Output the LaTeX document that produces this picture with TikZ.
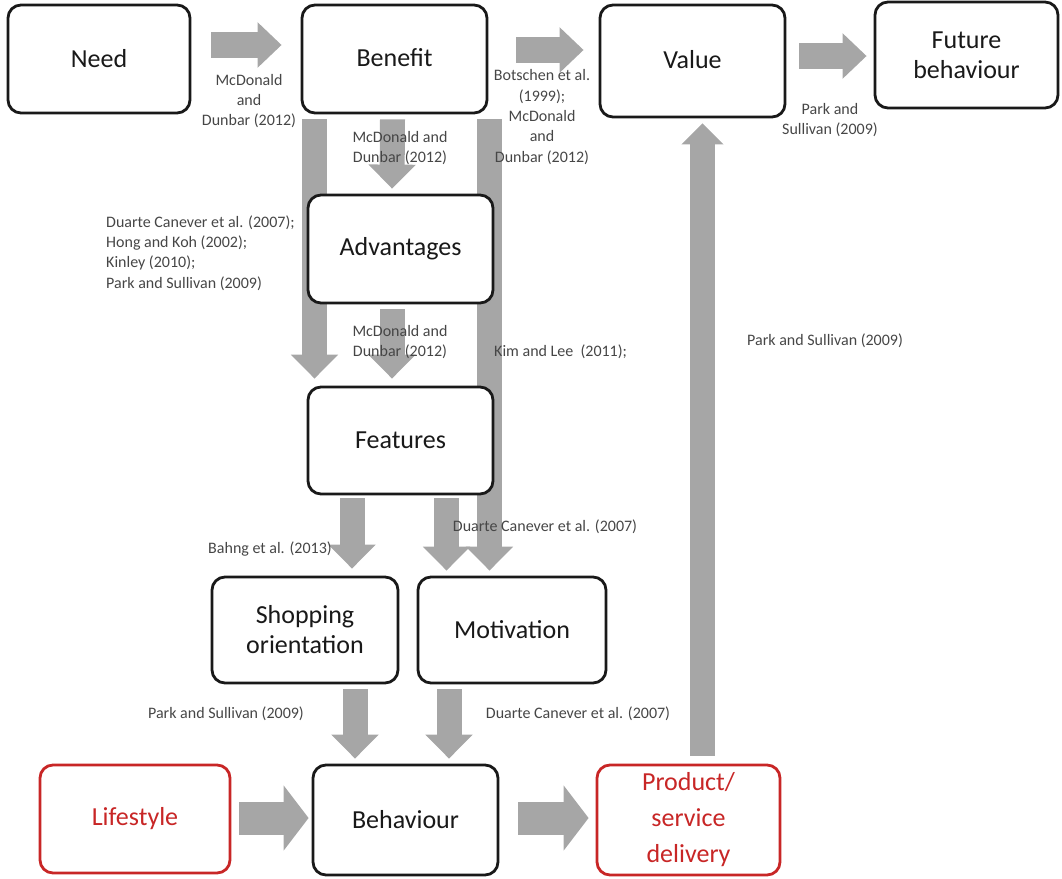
\documentclass[tikz,border=0pt]{standalone}
\usepackage{fontspec}
\setmainfont{Carlito}
\usetikzlibrary{arrows.meta,calc,backgrounds}
\definecolor{arrowgray}{RGB}{166,166,166}
\definecolor{boxred}{RGB}{200,38,38}
\definecolor{labelgray}{RGB}{70,70,70}
\definecolor{ink}{RGB}{25,25,25}

\begin{document}
\begin{tikzpicture}[x=1pt,y=-1pt,
  box/.style={draw=ink, line width=2.8pt, rounded corners=13pt, fill=white,
    align=center, text=ink, inner sep=0pt,
    font=\fontsize{26}{30}\selectfont},
  redbox/.style={box, draw=boxred, text=boxred},
  cite/.style={font=\fontsize{16}{20.4}\selectfont, text=labelgray,
    align=center, inner sep=0pt},
  citeleft/.style={cite, align=left, anchor=west},
  blkh/.style={draw=arrowgray, line width=26pt,
    -{Triangle[length=24pt,width=44pt]}},
  blkhb/.style={draw=arrowgray, line width=33pt,
    -{Triangle[length=25pt,width=64pt]}},
  blkv/.style={draw=arrowgray, line width=25pt,
    -{Triangle[length=24pt,width=46pt]}},
  blkup/.style={draw=arrowgray, line width=25pt,
    -{Triangle[length=21pt,width=41pt]}},
]
\useasboundingbox (0,0) rectangle (1062,878);

% boxes
\node[box, minimum width=182pt, minimum height=108pt] (need) at (99,59) {Need};
\node[box, minimum width=185pt, minimum height=108pt] (benefit) at (394.5,59) {\raisebox{2pt}{Benefit}};
\node[box, minimum width=185pt, minimum height=112pt] (value) at (692.5,61) {\raisebox{4pt}{Value}};
\node[box, minimum width=183pt, minimum height=106pt] (future) at (966.5,55) {Future\\behaviour};
\node[box, minimum width=185pt, minimum height=108pt] (adv) at (400.5,249) {Advantages};
\node[box, minimum width=185pt, minimum height=107pt] (feat) at (400.5,440.5) {Features};
\node[box, minimum width=186pt, minimum height=106pt] (shop) at (305,630) {\raisebox{2pt}{Shopping}\\\raisebox{2pt}{orientation}};
\node[box, minimum width=188pt, minimum height=106pt] (motiv) at (512,630) {Motivation};
\node[redbox, minimum width=190pt, minimum height=108pt] (life) at (135,819) {Lifestyle};
\node[box, minimum width=185pt, minimum height=110pt] (behav) at (405.5,820) {Behaviour};
\node[redbox, minimum width=183pt, minimum height=110pt,
      font=\fontsize{26}{36}\selectfont] (prod) at (688.5,820) {Product/\\service\\delivery};

% block arrows, behind boxes and labels
\begin{scope}[on background layer]
  \draw[blkh] ($(need.east)+(20,-14)$) -- ($(benefit.west)+(-19,-14)$);
  \draw[blkh] ($(benefit.east)+(28,-9)$) -- ($(value.west)+(-15,-11)$);
  \draw[blkh] ($(value.east)+(13,-5)$) -- ($(future.west)+(-7,1)$);
  \draw[blkv] ($(benefit.south)+(-2,5)$) -- ($(adv.north)+(-8.5,-5)$);
  \draw[blkv] ($(adv.south)+(-8.5,5)$) -- ($(feat.north)+(-8.5,-7)$);
  \draw[blkv] ($(benefit.south)+(-80,5)$) -- ($(feat.north)+(-86,-7)$);
  \draw[blkv] ($(benefit.south)+(95,5)$) -- ($(motiv.north)+(-22.5,-5)$);
  \draw[blkv] ($(feat.south)+(-48.5,3)$) -- ($(shop.north)+(47,-7)$);
  \draw[blkv] ($(feat.south)+(46,3)$) -- ($(motiv.north)+(-65.5,-5)$);
  \draw[blkv] ($(shop.south)+(50,5)$) -- ($(behav.north)+(-50.5,-5)$);
  \draw[blkv] ($(motiv.south)+(-63,5)$) -- ($(behav.north)+(43.5,-5)$);
  \draw[blkhb] ($(life.east)+(8,-1)$) -- ($(behav.west)+(-3,-2)$);
  \draw[blkhb] ($(behav.east)+(19,-2)$) -- ($(prod.west)+(-7,-2)$);
  \draw[blkup] ($(prod.north)+(14,-8)$) -- ($(value.south)+(10,5)$);
\end{scope}

% citations
\node[cite] (c1) at (249,101) {McDonald\\and\\Dunbar (2012)};
\node[cite] (c2) at (542,117) {Botschen et al.\\(1999);\\McDonald\\and\\Dunbar (2012)};
\node[cite] (c3) at (830,120) {Park and\\Sullivan (2009)};
\node[cite] (c4) at (400,148) {McDonald and\\Dunbar (2012)};
\node[citeleft] (c5) at (106,253) {Duarte Canever et al. (2007);\\Hong and Koh (2002);\\Kinley (2010);\\Park and Sullivan (2009)};
\node[cite] (c6) at (400,342) {McDonald and\\Dunbar (2012)};
\node[citeleft] (c7) at (494,352) {Kim and Lee\ \ (2011);};
\node[citeleft] (c8) at (747,341) {Park and Sullivan (2009)};
\node[cite] (c9) at (270,549) {Bahng et al. (2013)};
\node[cite] (c10) at (545,527) {Duarte Canever et al. (2007)};
\node[cite] (c11) at (226,714) {Park and Sullivan (2009)};
\node[cite] (c12) at (578,714) {Duarte Canever et al. (2007)};
\end{tikzpicture}
\end{document}
